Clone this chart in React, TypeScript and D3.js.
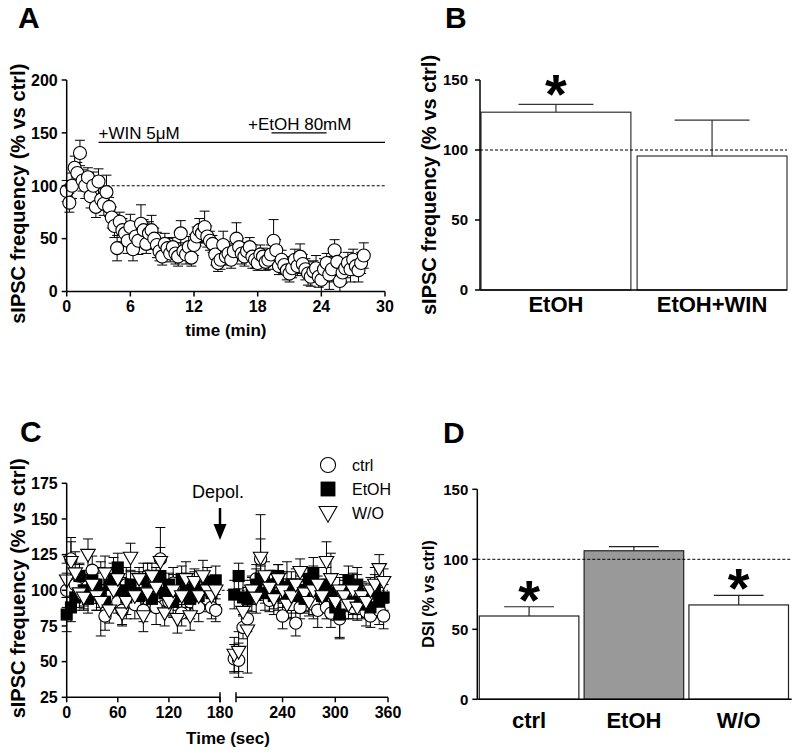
import React from 'react';
import * as d3 from 'd3';

const FONT = '"Liberation Sans", Arial, Helvetica, sans-serif';

// ---------------- Panel A : time course ----------------
const aTimes = d3.range(0, 28.001, 0.25);
const aValues = [
  95, 84, 100, 117, 112, 131, 105, 100, 108, 90, 100, 80,
  104, 87, 83, 94, 80, 70, 62, 41, 66, 58, 55, 48,
  61, 40, 52, 48, 64, 58, 45, 55, 58, 50, 44, 38,
  33, 45, 41, 36, 42, 36, 33, 55, 38, 35, 42, 32,
  44, 52, 58, 55, 61, 52, 48, 45, 35, 27, 30, 44,
  33, 36, 30, 38, 50, 42, 36, 33, 38, 42, 33, 30,
  27, 35, 33, 28, 30, 35, 48, 39, 24, 30, 25, 20,
  17, 22, 30, 24, 33, 26, 21, 17, 14, 19, 22, 14,
  11, 21, 27, 16, 21, 39, 28, 10, 18, 22, 27, 21,
  30, 24, 20, 27, 34,
];
const aErrors = [
  10, 9, 12, 11, 10, 12, 10, 12, 9, 11, 13, 10,
  12, 10, 11, 16, 9, 10, 11, 12, 9, 11, 10, 12,
  12, 11, 9, 13, 18, 10, 9, 11, 14, 10, 12, 9,
  8, 10, 9, 8, 9, 10, 9, 12, 8, 9, 10, 8,
  10, 9, 11, 9, 15, 10, 9, 8, 10, 8, 9, 13,
  8, 9, 8, 9, 15, 8, 10, 9, 8, 9, 11, 8,
  7, 9, 8, 8, 9, 9, 20, 10, 8, 9, 8, 9,
  8, 9, 10, 9, 12, 9, 10, 11, 9, 10, 12, 10,
  11, 10, 9, 14, 12, 10, 9, 11, 10, 9, 10, 12,
  10, 9, 11, 10, 12,
];
const aTicksX = [0, 6, 12, 18, 24, 30];
const aTicksY = [0, 50, 100, 150, 200];
const aWin = { label: '+WIN 5\u03bcM', start: 3, end: 30, level: 141 };
const aEtoh = { label: '+EtOH 80mM', start: 19.3, end: 24.5, level: 150 };

// ---------------- Panel B : bars ----------------
const bCats = ['EtOH', 'EtOH+WIN'];
const bValues = [127, 95.7];
const bErrors = [5.6, 25.7];
const bSig = [true, false];
const bTicksY = [0, 50, 100, 150];

// ---------------- Panel C : DSI time course ----------------
const cTimes1 = d3.range(0, 180, 5);
const cTimes2 = d3.range(185, 360, 5);
const cTimes = [...cTimes1, ...cTimes2];
const cCtrl = [
  100, 122, 104, 110, 98, 103, 114, 95, 108, 82, 96, 112, 92, 86, 104, 98, 90, 102,
  86, 110, 95, 88, 122, 98, 92, 105, 96, 84, 100, 92, 96, 88, 102, 94, 88, 86,
  52, 51, 74, 80, 96, 108, 122, 100, 93, 104, 98, 82, 102, 90, 77, 88, 95, 100,
  90, 86, 96, 88, 84, 92, 80, 90, 95, 88, 100, 92, 85, 82, 90, 86, 82,
];
const cEtoh = [
  83, 88, 95, 110, 100, 94, 107, 104, 98, 92, 104, 108, 116, 100, 95, 104, 98, 96,
  108, 100, 94, 104, 110, 98, 104, 92, 96, 108, 100, 94, 104, 96, 100, 106, 98, 107,
  97, 110, 95, 94, 100, 104, 108, 98, 104, 96, 110, 102, 98, 104, 96, 100, 94, 108,
  112, 100, 96, 104, 98, 88, 83, 100, 107, 92, 104, 90, 96, 88, 100, 92, 95,
];
const cWo = [
  107, 120, 112, 98, 95, 125, 104, 96, 92, 112, 86, 100, 108, 84, 92, 123, 96, 108,
  82, 98, 110, 102, 120, 84, 92, 100, 80, 96, 108, 82, 106, 96, 110, 100, 96, 100,
  55, 57, 85, 72, 100, 95, 123, 110, 102, 94, 108, 100, 90, 96, 104, 113, 98, 92,
  100, 104, 96, 120, 108, 92, 100, 96, 90, 100, 88, 96, 92, 100, 104, 115, 106,
];
const cCtrlErr = [
  12, 15, 10, 9, 11, 8, 10, 9, 12, 10, 9, 11, 8, 10, 12, 9, 10, 11,
  8, 9, 10, 12, 22, 9, 10, 11, 8, 9, 10, 12, 9, 10, 11, 9, 8, 8,
  10, 12, 8, 9, 11, 10, 14, 9, 8, 10, 12, 9, 18, 10, 9, 8, 11, 9,
  10, 12, 9, 8, 10, 9, 14, 10, 9, 8, 11, 9, 10, 8, 9, 10, 9,
];
const cEtohErr = [
  12, 10, 9, 8, 11, 10, 9, 12, 10, 9, 8, 11, 10, 9, 12, 10, 9, 8,
  11, 10, 9, 12, 10, 9, 8, 11, 10, 9, 12, 10, 9, 8, 11, 10, 9, 10,
  10, 9, 12, 8, 10, 11, 9, 12, 10, 9, 8, 11, 10, 9, 12, 10, 9, 8,
  11, 10, 9, 12, 10, 9, 16, 11, 10, 9, 12, 10, 9, 8, 11, 10, 9,
];
const cWoErr = [
  12, 14, 15, 10, 9, 11, 8, 10, 24, 12, 9, 10, 11, 9, 12, 10, 9, 8,
  11, 10, 9, 12, 10, 9, 8, 11, 10, 15, 12, 10, 9, 8, 11, 10, 9, 10,
  12, 14, 10, 30, 9, 11, 30, 10, 9, 11, 10, 12, 9, 10, 11, 9, 12, 10,
  17, 12, 9, 14, 18, 10, 9, 11, 10, 12, 9, 10, 11, 9, 12, 10, 9,
];
const cSeriesNames = ['ctrl', 'EtOH', 'W/O'];
const cTicksY = [25, 50, 75, 100, 125, 150, 175];
const cTicksX1 = [0, 60, 120, 180];
const cTicksX2 = [240, 300, 360];
const cDepolTime = 180;

// ---------------- Panel D : DSI bars ----------------
const dCats = ['ctrl', 'EtOH', 'W/O'];
const dValues = [59.5, 106.1, 67.4];
const dErrors = [6.6, 2.9, 6.9];
const dFills = ['#ffffff', '#999999', '#ffffff'];
const dSig = [true, false, true];
const dTicksY = [0, 50, 100, 150];

// ---------------- helpers ----------------
type Scale = (v: number) => number;

function YAxis({ x, y, ticks, labelGap = 9, fontSize = 15 }: { x: number; y: Scale; ticks: number[]; labelGap?: number; fontSize?: number }) {
  return (
    <g>
      <line x1={x} x2={x} y1={y(ticks[ticks.length - 1])} y2={y(ticks[0])} stroke="#000" strokeWidth={1.5} />
      {ticks.map((t) => (
        <g key={t}>
          <line x1={x - 5} x2={x} y1={y(t)} y2={y(t)} stroke="#000" strokeWidth={1.5} />
          <text x={x - labelGap} y={y(t)} dy="0.36em" textAnchor="end" fontSize={fontSize} fontWeight="bold">{t}</text>
        </g>
      ))}
    </g>
  );
}

function Asterisk({ x, bottom }: { x: number; bottom: number }) {
  return (
    <text x={x} y={bottom + 17} textAnchor="middle" fontSize={56} fontWeight="bold">*</text>
  );
}

function ErrBar({ x, y1, y2, half }: { x: number; y1: number; y2: number; half: number }) {
  return (
    <g stroke="#000" strokeWidth={1}>
      <line x1={x} x2={x} y1={y1} y2={y2} />
      <line x1={x - half} x2={x + half} y1={y1} y2={y1} />
      <line x1={x - half} x2={x + half} y1={y2} y2={y2} />
    </g>
  );
}

function PanelA() {
  const x = d3.scaleLinear().domain([0, 30]).range([66.7, 385]);
  const y = d3.scaleLinear().domain([0, 200]).range([291.5, 80]);
  return (
    <g>
      <text x={18} y={28} fontSize={30} fontWeight="bold">A</text>
      <line x1={x(0)} x2={x(30)} y1={y(100)} y2={y(100)} stroke="#000" strokeWidth={1} strokeDasharray="3,2" />
      <line x1={x(aWin.start)} x2={x(aWin.end)} y1={y(aWin.level)} y2={y(aWin.level)} stroke="#000" strokeWidth={1.3} />
      <text x={x(aWin.start)} y={y(aWin.level) - 3} fontSize={17}>{aWin.label}</text>
      <line x1={x(aEtoh.start)} x2={x(aEtoh.end)} y1={y(aEtoh.level)} y2={y(aEtoh.level)} stroke="#000" strokeWidth={1.3} />
      <text x={x(aEtoh.start) - 23.5} y={y(aEtoh.level) - 3} fontSize={17}>{aEtoh.label}</text>
      {aTimes.map((t, i) => (
        <ErrBar key={'e' + i} x={x(t)} y1={y(aValues[i] + aErrors[i])} y2={y(Math.max(0, aValues[i] - aErrors[i]))} half={5} />
      ))}
      {aTimes.map((t, i) => (
        <circle key={'c' + i} cx={x(t)} cy={y(aValues[i])} r={6.5} fill="#fff" stroke="#000" strokeWidth={1.1} />
      ))}
      <YAxis x={x(0)} y={y} ticks={aTicksY} fontSize={16} />
      <line x1={x(0)} x2={x(30)} y1={y(0)} y2={y(0)} stroke="#000" strokeWidth={1.5} />
      {aTicksX.map((t) => (
        <g key={t}>
          <line x1={x(t)} x2={x(t)} y1={y(0)} y2={y(0) + 5} stroke="#000" strokeWidth={1.5} />
          <text x={x(t)} y={y(0) + 20} textAnchor="middle" fontSize={16} fontWeight="bold">{t}</text>
        </g>
      ))}
      <text x={(x(0) + x(30)) / 2} y={336} textAnchor="middle" fontSize={17} fontWeight="bold">time (min)</text>
      <text transform={`translate(25,${(y(0) + y(200)) / 2 + 8}) rotate(-90)`} textAnchor="middle" fontSize={20} fontWeight="bold">sIPSC frequency (% vs ctrl)</text>
    </g>
  );
}

function PanelB() {
  const x = d3.scaleBand<string>().domain(bCats).range([481, 787]).paddingInner(0.04);
  const y = d3.scaleLinear().domain([0, 150]).range([290, 80]);
  const bw = x.bandwidth();
  return (
    <g>
      <text x={445} y={28} fontSize={30} fontWeight="bold">B</text>
      {bCats.map((c, i) => (
        <g key={c}>
          <rect x={x(c)} y={y(bValues[i])} width={bw} height={y(0) - y(bValues[i])} fill="#fff" stroke="#333" strokeWidth={1.2} />
          <line x1={x(c)! + bw / 2} x2={x(c)! + bw / 2} y1={y(bValues[i])} y2={y(bValues[i] + bErrors[i])} stroke="#333" strokeWidth={1.2} />
          <line x1={x(c)! + bw / 4} x2={x(c)! + (3 * bw) / 4} y1={y(bValues[i] + bErrors[i])} y2={y(bValues[i] + bErrors[i])} stroke="#333" strokeWidth={1.2} />
          {bSig[i] && <Asterisk x={x(c)! + bw / 2} bottom={y(bValues[i] + bErrors[i]) - 8} />}
          <text x={x(c)! + bw / 2} y={312} textAnchor="middle" fontSize={22} fontWeight="bold">{c}</text>
        </g>
      ))}
      <line x1={480} x2={787} y1={y(100)} y2={y(100)} stroke="#000" strokeWidth={1} strokeDasharray="3,2" />
      <YAxis x={480} y={y} ticks={bTicksY} labelGap={12} />
      <line x1={480} x2={787} y1={y(0)} y2={y(0)} stroke="#000" strokeWidth={1.5} />
      <text transform={`translate(436,${(y(0) + y(150)) / 2}) rotate(-90)`} textAnchor="middle" fontSize={20} fontWeight="bold">sIPSC frequency (% vs ctrl)</text>
    </g>
  );
}

function PanelC() {
  const x1 = d3.scaleLinear().domain([0, 180]).range([66.7, 220]);
  const x2 = d3.scaleLinear().domain([187, 360]).range([236, 388]);
  const x = (t: number) => (t < 182 ? x1(t) : x2(t));
  const y = d3.scaleLinear().domain([25, 175]).range([697.3, 483.3]);
  const series = [
    { name: cSeriesNames[0], v: cCtrl, e: cCtrlErr },
    { name: cSeriesNames[1], v: cEtoh, e: cEtohErr },
    { name: cSeriesNames[2], v: cWo, e: cWoErr },
  ];
  const marker = (k: number, cx: number, cy: number, key: string, s = 1.1) => {
    if (k === 0) return <circle key={key} cx={cx} cy={cy} r={5.6 * s} fill="#fff" stroke="#000" strokeWidth={1.1} />;
    if (k === 1) return <rect key={key} x={cx - 5.5 * s} y={cy - 5.5 * s} width={11 * s} height={11 * s} fill="#000" />;
    return (
      <path key={key} d={`M${cx - 6.6 * s},${cy - 4.8 * s}L${cx + 6.6 * s},${cy - 4.8 * s}L${cx},${cy + 6.8 * s}Z`} fill="#fff" stroke="#000" strokeWidth={1.1} />
    );
  };
  const y0 = y(25);
  const ax = x(cDepolTime);
  return (
    <g>
      <text x={20} y={442} fontSize={30} fontWeight="bold">C</text>
      <line x1={x1(0)} x2={x2(360)} y1={y(100)} y2={y(100)} stroke="#000" strokeWidth={1} strokeDasharray="3,2" />
      {series.map((s, k) =>
        cTimes.map((t, i) => (
          <ErrBar key={`e${k}-${i}`} x={x(t)} y1={y(s.v[i] + s.e[i])} y2={y(s.v[i] - s.e[i])} half={5} />
        ))
      )}
      {series.map((s, k) => cTimes.map((t, i) => marker(k, x(t), y(s.v[i]), `m${k}-${i}`)))}
      <YAxis x={x1(0)} y={y} ticks={cTicksY} fontSize={16} />
      <line x1={x1(0)} x2={x1(180)} y1={y0} y2={y0} stroke="#000" strokeWidth={1.5} />
      <line x1={x2(187)} x2={x2(360)} y1={y0} y2={y0} stroke="#000" strokeWidth={1.5} />
      <line x1={x1(180)} x2={x1(180)} y1={y0 - 5} y2={y0 + 5} stroke="#000" strokeWidth={1.5} />
      <line x1={x2(187)} x2={x2(187)} y1={y0 - 5} y2={y0 + 5} stroke="#000" strokeWidth={1.5} />
      {cTicksX1.map((t) => (
        <g key={'a' + t}>
          <line x1={x1(t)} x2={x1(t)} y1={y0} y2={y0 + 5} stroke="#000" strokeWidth={1.5} />
          <text x={x1(t)} y={y0 + 21} textAnchor="middle" fontSize={16} fontWeight="bold">{t}</text>
        </g>
      ))}
      {cTicksX2.map((t) => (
        <g key={'b' + t}>
          <line x1={x2(t)} x2={x2(t)} y1={y0} y2={y0 + 5} stroke="#000" strokeWidth={1.5} />
          <text x={x2(t)} y={y0 + 21} textAnchor="middle" fontSize={16} fontWeight="bold">{t}</text>
        </g>
      ))}
      <text x={228} y={744} textAnchor="middle" fontSize={17} fontWeight="bold">Time (sec)</text>
      <text transform={`translate(25,${(y(25) + y(175)) / 2 - 2}) rotate(-90)`} textAnchor="middle" fontSize={20} fontWeight="bold">sIPSC frequency (% vs ctrl)</text>
      {/* Depol arrow */}
      <text x={ax - 28} y={498} fontSize={18}>Depol.</text>
      <line x1={ax} x2={ax} y1={508} y2={527} stroke="#000" strokeWidth={2.5} />
      <path d={`M${ax - 6.5},${524}L${ax + 6.5},${524}L${ax},${540}Z`} fill="#000" />
      {/* legend */}
      {series.map((s, k) => (
        <g key={'l' + k}>
          {marker(k, 328, 465 + k * 24, 'lm' + k, 1.35)}
          <text x={352} y={465 + k * 24} dy="0.36em" fontSize={16}>{s.name}</text>
        </g>
      ))}
    </g>
  );
}

function PanelD() {
  const x = d3.scaleBand<string>().domain(dCats).range([479.3, 788.5]).paddingInner(0.05);
  const y = d3.scaleLinear().domain([0, 150]).range([699.3, 489.3]);
  const bw = x.bandwidth();
  return (
    <g>
      <text x={443} y={443} fontSize={30} fontWeight="bold">D</text>
      {dCats.map((c, i) => (
        <g key={c}>
          <rect x={x(c)} y={y(dValues[i])} width={bw} height={y(0) - y(dValues[i])} fill={dFills[i]} stroke="#222" strokeWidth={1.2} />
          <line x1={x(c)! + bw / 2} x2={x(c)! + bw / 2} y1={y(dValues[i])} y2={y(dValues[i] + dErrors[i])} stroke="#222" strokeWidth={1.2} />
          <line x1={x(c)! + bw / 4} x2={x(c)! + (3 * bw) / 4} y1={y(dValues[i] + dErrors[i])} y2={y(dValues[i] + dErrors[i])} stroke="#222" strokeWidth={1.2} />
          {dSig[i] && <Asterisk x={x(c)! + bw / 2} bottom={y(dValues[i] + dErrors[i]) - 5} />}
          <text x={x(c)! + bw / 2} y={728} textAnchor="middle" fontSize={22} fontWeight="bold">{c}</text>
        </g>
      ))}
      <line x1={477.3} x2={791.7} y1={y(100)} y2={y(100)} stroke="#000" strokeWidth={1} strokeDasharray="3,2" />
      <YAxis x={477.3} y={y} ticks={dTicksY} />
      <line x1={477.3} x2={791.7} y1={y(0)} y2={y(0)} stroke="#000" strokeWidth={1.5} />
      <text transform={`translate(434,594) rotate(-90)`} textAnchor="middle" fontSize={16} fontWeight="bold">DSI (% vs ctrl)</text>
    </g>
  );
}

export default function App() {
  return (
    <svg width={800} height={755} viewBox="0 0 800 755" style={{ position: 'absolute', left: 0, top: 0, background: '#fff' }} fontFamily={FONT}>
      <rect width={800} height={755} fill="#fff" />
      <PanelA />
      <PanelB />
      <PanelC />
      <PanelD />
    </svg>
  );
}
